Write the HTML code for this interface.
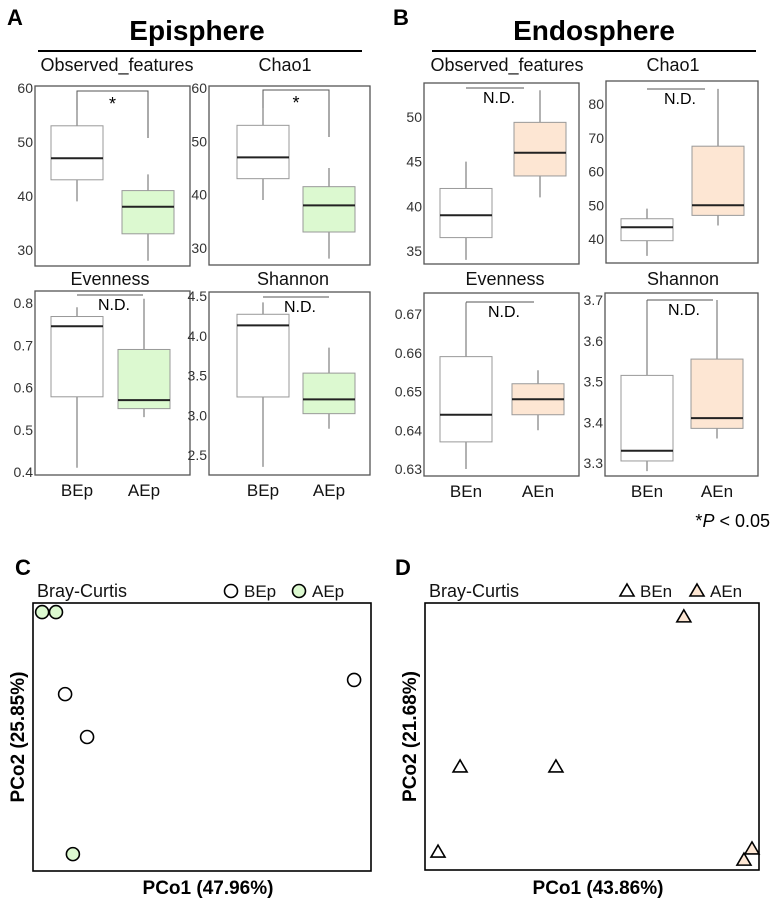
<!DOCTYPE html>
<html><head><meta charset="utf-8"><style>
body{margin:0;background:#fff;}
svg{display:block;font-family:"Liberation Sans",Arial,sans-serif;}
</style></head><body>
<svg id="fig" width="778" height="909" viewBox="0 0 778 909" xmlns="http://www.w3.org/2000/svg">
<text x="7" y="25" font-size="22" font-weight="bold">A</text>
<text x="197" y="40" font-size="28" font-weight="bold" text-anchor="middle">Episphere</text>
<line x1="38" y1="51" x2="362" y2="51" stroke="#000" stroke-width="2"/>
<text x="393" y="25" font-size="22" font-weight="bold">B</text>
<text x="594" y="40" font-size="28" font-weight="bold" text-anchor="middle">Endosphere</text>
<line x1="432" y1="51" x2="756" y2="51" stroke="#000" stroke-width="2"/>
<text x="770" y="527" font-size="18" text-anchor="end">*<tspan font-style="italic">P</tspan> &lt; 0.05</text>
<text x="15" y="575" font-size="22" font-weight="bold">C</text>
<text x="395" y="575" font-size="22" font-weight="bold">D</text>
<g id="plots"></g>
</svg>
<script>
// ---- data ----
const groupsEp=['BEp','AEp'];
const groupsEn=['BEn','AEn'];
// [lower whisker, q1, median, q3, upper whisker]
const epiObserved=[[39,43,47,53,59],[28,33,38,41,44]];
const epiChao1=[[39,43,47,53,59],[28,33,38,41.5,45]];
const epiEvenness=[[0.41,0.578,0.745,0.768,0.79],[0.53,0.55,0.57,0.69,0.81]];
const epiShannon=[[2.35,3.23,4.13,4.27,4.42],[2.83,3.02,3.2,3.53,3.85]];
const endoObserved=[[34,36.5,39,42,45],[41,43.4,46,49.4,53]];
const endoChao1=[[35,39.5,43.5,46,49],[44,47,50,67.5,84.5]];
const endoEvenness=[[0.630,0.637,0.644,0.659,0.673],[0.640,0.644,0.648,0.652,0.6555]];
const endoShannon=[[3.28,3.305,3.33,3.515,3.70],[3.36,3.385,3.41,3.555,3.70]];
const ticksEpiObs=[30,40,50,60];
const ticksEpiEven=[0.4,0.5,0.6,0.7,0.8];
const tickLabelsEpiEven=['0.4','0.5','0.6','0.7','0.8'];
const ticksEpiShan=[2.5,3.0,3.5,4.0,4.5];
const tickLabelsEpiShan=['2.5','3.0','3.5','4.0','4.5'];
const ticksEndoObs=[35,40,45,50];
const ticksEndoChao=[40,50,60,70,80];
const ticksEndoEven=[0.63,0.64,0.65,0.66,0.67];
const ticksEndoShan=[3.3,3.4,3.5,3.6,3.7];
const tickLabelsEndoShan=['3.3','3.4','3.5','3.6','3.7'];
// PCoA (normalized axis units 0..1)
const pcoaCGroups=['BEp','BEp','BEp','AEp','AEp','AEp'];
const pcoaCx=[0.095,0.16,0.95,0.027,0.068,0.118];
const pcoaCy=[0.66,0.50,0.713,0.966,0.966,0.063];
const pcoaDGroups=['BEn','BEn','BEn','AEn','AEn','AEn'];
const pcoaDx=[0.039,0.105,0.392,0.775,0.979,0.955];
const pcoaDy=[0.067,0.386,0.386,0.948,0.079,0.037];

const NS='http://www.w3.org/2000/svg';
const root=document.getElementById('plots');
function mk(tag,attrs,parent,txt){const e=document.createElementNS(NS,tag);for(const k in attrs)e.setAttribute(k,attrs[k]);if(txt!==undefined)e.textContent=txt;(parent||root).appendChild(e);return e;}

function boxPanel(cfg){
  const g=mk('g',{});
  
  
  const y=v=>cfg.ty0+(v-cfg.tv0)*(cfg.ty1-cfg.ty0)/(cfg.tv1-cfg.tv0);
  const t=mk('text',{x:cfg.tx,y:cfg.titleY,'font-size':18,'text-anchor':'middle',fill:'#111'},g,cfg.title);
  
  
  const fr=mk('rect',{x:cfg.x0,y:cfg.y0,width:cfg.x1-cfg.x0,height:cfg.y1-cfg.y0,fill:'#fff',stroke:'#555','stroke-width':1.3},g);
  
  
  cfg.ticks.forEach((v,i)=>{
    const lbl=cfg.labels?cfg.labels[i]:String(v);
    const tl=mk('text',{x:cfg.x0-2,y:y(v)+5,'font-size':14,'text-anchor':'end',fill:'#333'},g,lbl);
    
    
  });
  cfg.data.forEach((d,i)=>{
    const cx=cfg.cx[i];
    const bg=mk('g',{},g);
    
    
    mk('line',{x1:cx,x2:cx,y1:y(d[0]),y2:y(d[4]),stroke:'#666','stroke-width':1},bg);
    mk('rect',{x:cx-26,y:y(d[3]),width:52,height:y(d[1])-y(d[3]),fill:i===0?'#fff':cfg.fill,stroke:'#999','stroke-width':1},bg);
    mk('line',{x1:cx-26,x2:cx+26,y1:y(d[2]),y2:y(d[2]),stroke:'#222','stroke-width':2},bg);
    if(cfg.xlabels){const xl=mk('text',{x:cx,y:cfg.y1+21,'font-size':17,'text-anchor':'middle',fill:'#111'},g,cfg.groups[i]);
      
      }
  });
  if(cfg.sig){
    const s=cfg.sig;
    const p=mk('path',{d:`M${cfg.cx[0]},${s.l} V${s.top} H${cfg.cx[1]} V${s.r}`,fill:'none',stroke:'#555','stroke-width':1},g);
    
    
    const st=mk('text',{x:(cfg.cx[0]+cfg.cx[1])/2,y:s.top+19,'font-size':18,'text-anchor':'middle'},g,'*');
    
    
  }
  if(cfg.nd){
    const n=cfg.nd;
    mk('line',{x1:cfg.cx[0],x2:n.x2,y1:n.y,y2:n.y,stroke:'#555','stroke-width':1},g);
    const nt=mk('text',{x:(cfg.cx[0]+n.x2)/2+4,y:n.y+15,'font-size':16,'text-anchor':'middle'},g,'N.D.');
    
    
  }
}
const green='#dcf9d0', peach='#fde6d3';
boxPanel({name:'epi-observed',title:'Observed_features',tx:117,titleY:71,x0:35,x1:190,y0:86,y1:266,ty0:88,tv0:60,ty1:250,tv1:30,ticks:ticksEpiObs,data:epiObserved,groups:groupsEp,cx:[77,148],fill:green,sig:{top:91,l:110,r:138}});
boxPanel({name:'epi-chao1',title:'Chao1',tx:285,titleY:71,x0:209,x1:370,y0:86,y1:265,ty0:88,tv0:60,ty1:248,tv1:30,ticks:ticksEpiObs,data:epiChao1,groups:groupsEp,cx:[263,329],fill:green,sig:{top:90,l:108,r:137}});
boxPanel({name:'epi-evenness',title:'Evenness',tx:110,titleY:285,x0:35,x1:190,y0:291,y1:475,ty0:303,tv0:0.8,ty1:472,tv1:0.4,ticks:ticksEpiEven,labels:tickLabelsEpiEven,data:epiEvenness,groups:groupsEp,cx:[77,144],fill:green,nd:{y:295,x2:143},xlabels:true});
boxPanel({name:'epi-shannon',title:'Shannon',tx:293,titleY:285,x0:209,x1:370,y0:292,y1:475,ty0:296,tv0:4.5,ty1:455,tv1:2.5,ticks:ticksEpiShan,labels:tickLabelsEpiShan,data:epiShannon,groups:groupsEp,cx:[263,329],fill:green,nd:{y:297,x2:329},xlabels:true});
boxPanel({name:'endo-observed',title:'Observed_features',tx:507,titleY:71,x0:424,x1:579,y0:83,y1:264,ty0:117,tv0:50,ty1:251,tv1:35,ticks:ticksEndoObs,data:endoObserved,groups:groupsEn,cx:[466,540],fill:peach,nd:{y:88,x2:524}});
boxPanel({name:'endo-chao1',title:'Chao1',tx:673,titleY:71,x0:606,x1:758,y0:81,y1:263,ty0:104,tv0:80,ty1:239,tv1:40,ticks:ticksEndoChao,data:endoChao1,groups:groupsEn,cx:[647,718],fill:peach,nd:{y:89,x2:705}});
boxPanel({name:'endo-evenness',title:'Evenness',tx:505,titleY:285,x0:424,x1:579,y0:293,y1:476,ty0:314,tv0:0.67,ty1:469,tv1:0.63,ticks:ticksEndoEven,data:endoEvenness,groups:groupsEn,cx:[466,538],fill:peach,nd:{y:302,x2:534},xlabels:true});
boxPanel({name:'endo-shannon',title:'Shannon',tx:683,titleY:285,x0:605,x1:758,y0:293,y1:476,ty0:300,tv0:3.7,ty1:463,tv1:3.3,ticks:ticksEndoShan,labels:tickLabelsEndoShan,data:endoShannon,groups:groupsEn,cx:[647,717],fill:peach,nd:{y:300,x2:713},xlabels:true});

function marker(shape,x,y,fill,parent){
  if(shape==='circle') return mk('circle',{cx:x,cy:y,r:6.5,fill:fill,stroke:'#000','stroke-width':1.6},parent);
  return mk('path',{d:`M${x},${y-7} L${x+7},${y+5} L${x-7},${y+5} Z`,fill:fill,stroke:'#000','stroke-width':1.6,'stroke-linejoin':'miter'},parent);
}
function pcoa(cfg){
  const g=mk('g',{});
  
  
  const sx=v=>cfg.x0+v*(cfg.x1-cfg.x0), sy=v=>cfg.y1-v*(cfg.y1-cfg.y0);
  const tt=mk('text',{x:cfg.x0+4,y:cfg.y0-6,'font-size':18,fill:'#111'},g,'Bray-Curtis');
  
  
  const fr=mk('rect',{x:cfg.x0,y:cfg.y0,width:cfg.x1-cfg.x0,height:cfg.y1-cfg.y0,fill:'none',stroke:'#000','stroke-width':1.6},g);
  
  
  cfg.groupNames.forEach((gn,i)=>{
    const lg=mk('g',{},g);
    
    
    marker(cfg.shape,cfg.legX[i],591,cfg.fills[i],lg);
    mk('text',{x:cfg.legX[i]+13,y:597,'font-size':17,fill:'#111'},lg,gn);
  });
  cfg.xs.forEach((v,i)=>{
    const gi=cfg.groupNames.indexOf(cfg.groups[i]);
    const m=marker(cfg.shape,sx(v),sy(cfg.ys[i]),cfg.fills[gi],g);
    
    
  });
  const xl=mk('text',{x:(cfg.x0+cfg.x1)/2+6,y:894,'font-size':19,'font-weight':'bold','text-anchor':'middle'},g,cfg.xlabel);
  
  
  const cy=(cfg.y0+cfg.y1)/2;
  const yl=mk('text',{x:cfg.x0-9,y:cy,'font-size':19,'font-weight':'bold','text-anchor':'middle',transform:`rotate(-90 ${cfg.x0-9} ${cy})`},g,cfg.ylabel);
  
  
}
pcoa({name:'pcoa-episphere',x0:33,x1:371,y0:603,y1:871,shape:'circle',groupNames:['BEp','AEp'],fills:['#fff',green],legX:[231,299],xs:pcoaCx,ys:pcoaCy,groups:pcoaCGroups,xlabel:'PCo1 (47.96%)',ylabel:'PCo2 (25.85%)'});
pcoa({name:'pcoa-endosphere',x0:425,x1:759,y0:603,y1:870,shape:'triangle',groupNames:['BEn','AEn'],fills:['#fff',peach],legX:[627,697],xs:pcoaDx,ys:pcoaDy,groups:pcoaDGroups,xlabel:'PCo1 (43.86%)',ylabel:'PCo2 (21.68%)'});
</script>
</body></html>
